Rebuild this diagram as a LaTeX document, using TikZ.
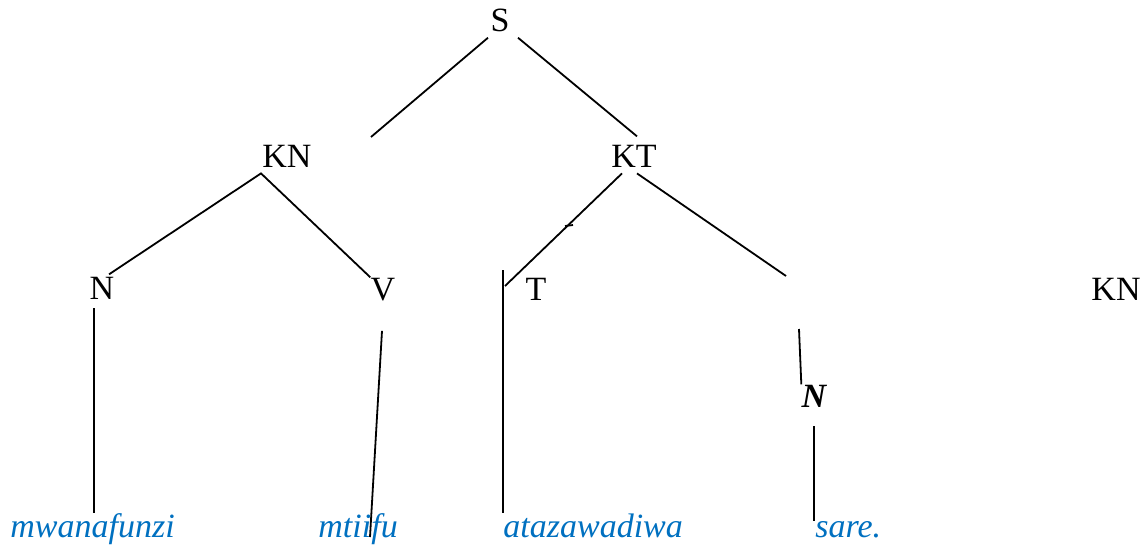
\documentclass[tikz,border=0pt]{standalone}
\usepackage{fontspec}
\setmainfont{Liberation Serif}
\usepackage{xcolor}
\usepackage{tikz}
\usetikzlibrary{positioning}

\definecolor{wordblue}{RGB}{0,112,192}

\begin{document}
\begin{tikzpicture}[
            x = 0.5pt, y = -0.5pt,
            every node/.append style = {inner sep = 0pt, anchor = base,
                font = \fontsize{17pt}{20pt}\selectfont},
            word/.style = {anchor = base west, text = wordblue,
                font = \fontsize{17pt}{20pt}\selectfont\itshape},
            branch/.style = {line width = 0.9pt}]
            \useasboundingbox (0,0) rectangle (1147,546);
            \node (s) at (500,32) {S};
            \node (kn) at (287,167) {KN};
            \node (kt) at (634,167) {KT};
            \node (n) at (102,299) {N};
            \node (v) at (383,300) {V};
            \node (t) at (536,300) {T};
            \node (knright) at (1116,300) {KN};
            \node (nbold) at (814,407) {\bfseries\itshape N};
            \node[word] (mwanafunzi) at (10,537) {mwanafunzi};
            \node[word] (mtiifu) at (318,537) {mtiifu};
            \node[word] (atazawadiwa) at (503,537) {atazawadiwa};
            \node[word] (sare) at (815,537) {sare.};
            \coordinate (sgap) at (371,137);
            \coordinate (tarm) at (505,286);
            \coordinate (ktarm) at (786,276);
            \coordinate (ntop) at ([shift={(-8,9)}]n.south);
            \coordinate (ttop) at (503,270);
            \coordinate (nboldtop) at (799,329);
            \coordinate (nbolddown) at ([shift={(0,19)}]nbold.south);
            \coordinate (tickleft) at (565,226);
            \coordinate (tickright) at (573,225);
            \draw[branch] ([shift={(-12,5)}]s.south) -- (sgap);
            \draw[branch] ([shift={(18,5)}]s.south) -- ([shift={(3,-8)}]kt.north);
            \draw[branch] ([shift={(7,-2)}]n.north) -- ([shift={(-26,6)}]kn.south) -- (v.north west);
            \draw[branch] (ntop) -- (ntop |- mwanafunzi.north);
            \draw[branch] ([shift={(-1,30)}]v.south) -- ([shift={(52,0)}]mtiifu.base west);
            \draw[branch] ([shift={(-12,6)}]kt.south) -- (tarm);
            \draw[branch] (tickleft) -- (tickright);
            \draw[branch] (ttop) -- (ttop |- atazawadiwa.north);
            \draw[branch] ([shift={(3,6)}]kt.south) -- (ktarm);
            \draw[branch] (nboldtop) -- (nbold.north west);
            \draw[branch] (nbolddown) -- (nbolddown |- sare.north);
        \end{tikzpicture}
\end{document}
